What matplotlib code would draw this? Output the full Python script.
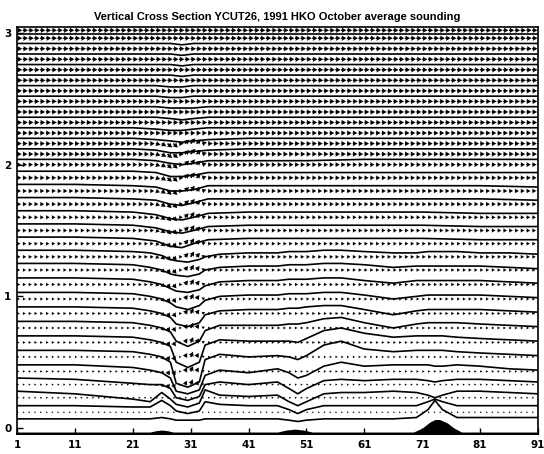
import matplotlib
matplotlib.use("Agg")
import matplotlib.pyplot as plt
import numpy as np

title = "Vertical Cross Section YCUT26, 1991 HKO October average sounding"
x_ticks = [1, 11, 21, 31, 41, 51, 61, 71, 81, 91]
y_ticks = [0, 1, 2, 3]

# terrain along the cut (km)
ter_x = [1, 24, 25, 26, 27, 28, 46, 47.5, 49, 50.5, 52, 69.5, 71, 72.3, 73.2, 74, 75.3, 76.5, 77.8, 91]
ter_h = [-0.03, -0.03, -0.02, -0.015, -0.02, -0.03, -0.03, -0.015, -0.008, -0.015, -0.03,
         -0.03, 0.0, 0.045, 0.065, 0.065, 0.04, 0.0, -0.03, -0.03]

# lower isentropes, read at these columns
xk_low = [1, 11, 21, 24, 26, 27.5, 28.5, 30.5, 32.5, 33.5, 36, 41, 46, 48, 49.5, 51, 54, 57,
          61, 66, 70, 72, 73.2, 74.5, 77, 81, 86, 91]
theta_low = [
    [0.07, 0.07, 0.07, 0.07, 0.08, 0.07, 0.06, 0.06, 0.06, 0.07, 0.07, 0.07, 0.07, 0.06, 0.05, 0.06, 0.07, 0.07, 0.07, 0.07, 0.08, 0.14, 0.21, 0.14, 0.08, 0.08, 0.08, 0.08],
    [0.17, 0.17, 0.16, 0.16, 0.21, 0.17, 0.13, 0.11, 0.13, 0.20, 0.18, 0.17, 0.17, 0.14, 0.11, 0.14, 0.17, 0.17, 0.17, 0.17, 0.17, 0.20, 0.22, 0.20, 0.17, 0.17, 0.17, 0.17],
    [0.28, 0.26, 0.22, 0.20, 0.27, 0.22, 0.18, 0.16, 0.19, 0.29, 0.25, 0.24, 0.25, 0.20, 0.17, 0.20, 0.26, 0.27, 0.27, 0.28, 0.27, 0.25, 0.23, 0.25, 0.28, 0.28, 0.27, 0.26],
    [0.38, 0.37, 0.34, 0.33, 0.33, 0.30, 0.23, 0.21, 0.24, 0.33, 0.35, 0.33, 0.35, 0.30, 0.26, 0.30, 0.36, 0.37, 0.36, 0.37, 0.37, 0.36, 0.35, 0.36, 0.37, 0.37, 0.36, 0.35],
    [0.48, 0.48, 0.46, 0.44, 0.42, 0.38, 0.28, 0.26, 0.29, 0.40, 0.44, 0.42, 0.45, 0.42, 0.38, 0.40, 0.47, 0.50, 0.47, 0.48, 0.48, 0.48, 0.47, 0.47, 0.48, 0.47, 0.45, 0.44],
    [0.59, 0.59, 0.58, 0.56, 0.54, 0.50, 0.34, 0.31, 0.35, 0.52, 0.56, 0.54, 0.55, 0.54, 0.52, 0.55, 0.63, 0.66, 0.60, 0.58, 0.59, 0.59, 0.59, 0.59, 0.58, 0.57, 0.56, 0.55],
    [0.70, 0.70, 0.69, 0.67, 0.65, 0.62, 0.50, 0.46, 0.50, 0.63, 0.67, 0.66, 0.66, 0.66, 0.65, 0.68, 0.74, 0.76, 0.72, 0.69, 0.70, 0.70, 0.70, 0.70, 0.69, 0.68, 0.67, 0.66],
    [0.81, 0.81, 0.80, 0.78, 0.76, 0.73, 0.66, 0.62, 0.66, 0.74, 0.78, 0.78, 0.78, 0.79, 0.79, 0.80, 0.83, 0.84, 0.80, 0.76, 0.79, 0.80, 0.80, 0.80, 0.80, 0.79, 0.78, 0.77],
    [0.92, 0.92, 0.91, 0.89, 0.87, 0.84, 0.79, 0.77, 0.80, 0.86, 0.89, 0.90, 0.90, 0.91, 0.91, 0.92, 0.93, 0.93, 0.90, 0.86, 0.89, 0.90, 0.90, 0.90, 0.90, 0.90, 0.89, 0.88],
    [1.03, 1.03, 1.02, 1.00, 0.98, 0.95, 0.92, 0.90, 0.93, 0.97, 1.00, 1.01, 1.01, 1.02, 1.02, 1.02, 1.03, 1.03, 1.01, 0.98, 1.00, 1.01, 1.01, 1.01, 1.01, 1.01, 1.00, 0.99],
    [1.14, 1.14, 1.13, 1.11, 1.09, 1.06, 1.04, 1.03, 1.05, 1.08, 1.11, 1.12, 1.12, 1.13, 1.13, 1.13, 1.14, 1.14, 1.12, 1.10, 1.12, 1.12, 1.12, 1.12, 1.12, 1.12, 1.11, 1.10],
    [1.25, 1.25, 1.24, 1.22, 1.20, 1.17, 1.16, 1.15, 1.17, 1.20, 1.22, 1.23, 1.23, 1.24, 1.24, 1.24, 1.25, 1.25, 1.24, 1.22, 1.23, 1.23, 1.23, 1.23, 1.23, 1.23, 1.22, 1.21],
    [1.35, 1.35, 1.34, 1.33, 1.31, 1.28, 1.27, 1.26, 1.28, 1.30, 1.32, 1.33, 1.33, 1.34, 1.34, 1.34, 1.35, 1.35, 1.34, 1.33, 1.33, 1.34, 1.34, 1.34, 1.34, 1.33, 1.33, 1.32],
]

# upper isentropes
xk_up = [1, 11, 21, 25, 27.5, 29.5, 31.5, 34, 41, 51, 61, 71, 81, 91]
theta_up = [
    [1.45, 1.45, 1.44, 1.42, 1.38, 1.37, 1.40, 1.43, 1.44, 1.44, 1.44, 1.44, 1.43, 1.43],
    [1.55, 1.55, 1.54, 1.52, 1.49, 1.48, 1.50, 1.53, 1.54, 1.54, 1.54, 1.54, 1.53, 1.53],
    [1.65, 1.65, 1.64, 1.62, 1.59, 1.58, 1.60, 1.63, 1.64, 1.64, 1.64, 1.64, 1.63, 1.63],
    [1.75, 1.75, 1.74, 1.73, 1.70, 1.69, 1.71, 1.74, 1.74, 1.74, 1.74, 1.74, 1.74, 1.73],
    [1.85, 1.85, 1.84, 1.83, 1.80, 1.80, 1.81, 1.84, 1.84, 1.84, 1.84, 1.84, 1.84, 1.83],
    [1.95, 1.95, 1.95, 1.94, 1.91, 1.91, 1.92, 1.94, 1.94, 1.94, 1.94, 1.94, 1.94, 1.94],
    [2.04, 2.04, 2.04, 2.03, 2.01, 2.00, 2.01, 2.03, 2.03, 2.03, 2.04, 2.04, 2.04, 2.04],
    [2.12, 2.12, 2.12, 2.11, 2.09, 2.09, 2.10, 2.11, 2.12, 2.12, 2.12, 2.12, 2.12, 2.12],
    [2.20, 2.20, 2.20, 2.19, 2.18, 2.17, 2.18, 2.19, 2.20, 2.20, 2.20, 2.20, 2.20, 2.20],
    [2.28, 2.28, 2.28, 2.27, 2.26, 2.26, 2.27, 2.28, 2.28, 2.28, 2.28, 2.28, 2.28, 2.28],
    [2.36, 2.36, 2.36, 2.36, 2.35, 2.34, 2.35, 2.36, 2.36, 2.36, 2.36, 2.36, 2.36, 2.36],
    [2.44, 2.44, 2.44, 2.44, 2.43, 2.43, 2.43, 2.44, 2.44, 2.44, 2.44, 2.44, 2.44, 2.44],
    [2.52, 2.52, 2.52, 2.52, 2.51, 2.51, 2.52, 2.52, 2.52, 2.52, 2.52, 2.52, 2.52, 2.52],
    [2.60, 2.60, 2.60, 2.60, 2.59, 2.59, 2.60, 2.60, 2.60, 2.60, 2.60, 2.60, 2.60, 2.60],
    [2.68, 2.68, 2.68, 2.68, 2.68, 2.67, 2.68, 2.68, 2.68, 2.68, 2.68, 2.68, 2.68, 2.68],
    [2.76, 2.76, 2.76, 2.76, 2.76, 2.75, 2.76, 2.76, 2.76, 2.76, 2.76, 2.76, 2.76, 2.76],
    [2.84, 2.84, 2.84, 2.84, 2.84, 2.83, 2.84, 2.84, 2.84, 2.84, 2.84, 2.84, 2.84, 2.84],
    [2.92, 2.92, 2.92, 2.92, 2.92, 2.91, 2.92, 2.92, 2.92, 2.92, 2.92, 2.92, 2.92, 2.92],
    [2.99, 2.99, 2.99, 2.99, 2.99, 2.99, 2.99, 2.99, 2.99, 2.99, 2.99, 2.99, 2.99, 2.99],
]

# wind vector rows (model levels) and their u length
row_z = [0.12, 0.23, 0.33, 0.43, 0.54, 0.65, 0.76, 0.87, 0.98, 1.09, 1.20, 1.30, 1.40, 1.50,
         1.60, 1.70, 1.80, 1.90, 2.00, 2.08, 2.16, 2.24, 2.32, 2.40, 2.48, 2.56, 2.64, 2.72,
         2.80, 2.88, 2.96, 3.02]
row_u = [0.30, 0.35, 0.35, 0.40, 0.40, 0.45, 0.45, 0.50, 0.50, 0.55, 0.55, 0.60, 0.60, 0.65,
         0.65, 0.70, 0.70, 0.75, 0.75, 0.80, 0.80, 0.80, 0.85, 0.85, 0.85, 0.85, 0.90, 0.90,
         0.90, 0.90, 0.90, 0.90]
# vertical motion near the trough
tilt_x = [25, 26, 27, 28, 29, 30, 31, 32, 33]
tilt_w = [-0.01, -0.02, -0.03, -0.03, 0.0, 0.03, 0.04, 0.03, 0.01]

cols = np.arange(1, 92)

fig = plt.figure(figsize=(5.44, 4.54), dpi=100)
ax = fig.add_axes([17 / 544, 20 / 454, 521 / 544, 407 / 454])

ax.fill_between(ter_x, -0.06, ter_h, color="k", lw=0, zorder=3)

for line in theta_low:
    ax.plot(xk_low, line, color="k", lw=1.2, zorder=2)
for line in theta_up:
    ax.plot(xk_up, line, color="k", lw=1.2, zorder=2)

w_col = np.zeros(len(cols))
for xx, ww in zip(tilt_x, tilt_w):
    w_col[cols == xx] = ww

X, Y, U, V = [], [], [], []
for z, u in zip(row_z, row_u):
    X.extend(cols)
    Y.extend([z] * len(cols))
    U.extend([u] * len(cols))
    if 0.3 < z < 2.2:
        V.extend(w_col)
    else:
        V.extend(np.zeros(len(cols)))

ax.quiver(X, Y, U, V, angles="xy", scale_units="xy", scale=1, color="k",
          width=0.0032, headwidth=3.2, headlength=2.8, headaxislength=2.5, zorder=2)

ax.set_xlim(1, 91)
ax.set_ylim(-0.045, 3.045)
ax.set_xticks(x_ticks)
ax.set_yticks(y_ticks)
ax.tick_params(direction="in", length=4, width=1, labelsize=7.5, pad=4)
for lab in ax.get_xticklabels() + ax.get_yticklabels():
    lab.set_fontweight("bold")
for s in ax.spines.values():
    s.set_linewidth(1.2)

ax.set_title(title, fontsize=8, fontweight="bold", family="Liberation Sans", pad=5)

fig.savefig("out.png", dpi=100)
